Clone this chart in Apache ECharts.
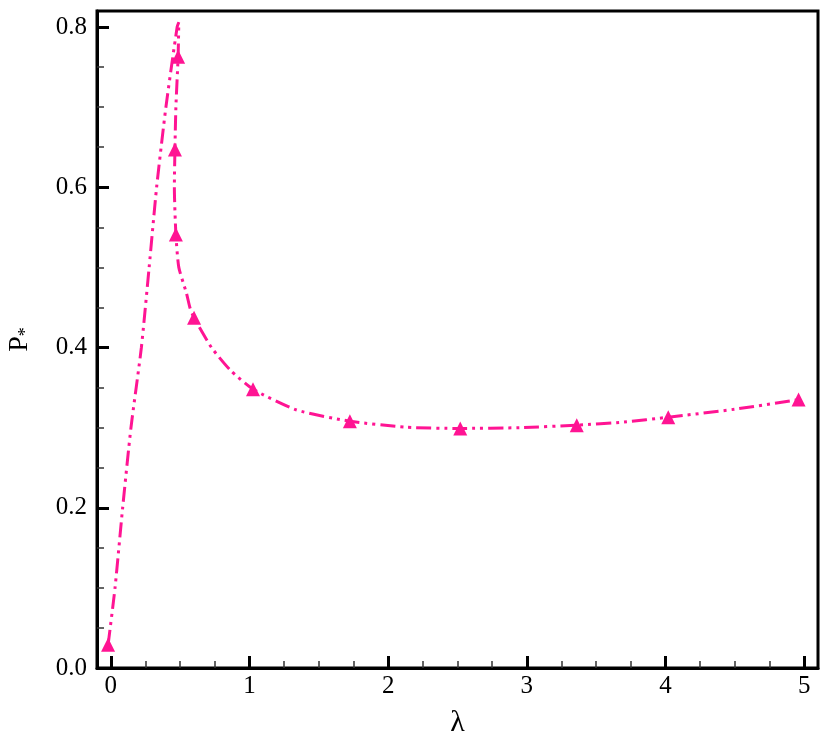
<!DOCTYPE html>
<html>
<head>
<meta charset="utf-8">
<script src="https://cdn.jsdelivr.net/npm/echarts@6/dist/echarts.min.js"></script>
<style>html,body{margin:0;padding:0;background:#fff}#c{width:828px;height:742px}</style>
</head>
<body>
<div id="c"></div>
<script>
// curve (lambda, P*)
const curveX = [-0.02, 0.03, 0.085, 0.145, 0.22, 0.276, 0.33, 0.397, 0.478, 0.49, 0.485, 0.469, 0.462, 0.458, 0.469, 0.49, 0.545, 0.57, 0.6, 0.726, 0.86, 1.025, 1.34, 1.724, 2.13, 2.52, 2.95, 3.36, 3.7, 4.02, 4.5, 4.96];
const curveY = [0.029, 0.1, 0.2, 0.3, 0.4, 0.5, 0.6, 0.7, 0.8, 0.806, 0.763, 0.7, 0.647, 0.6, 0.541, 0.5, 0.468, 0.45, 0.437, 0.4, 0.372, 0.348, 0.322, 0.308, 0.3005, 0.299, 0.3, 0.303, 0.307, 0.313, 0.323, 0.335];
// triangle markers
const markX = [-0.02, 0.462, 0.485, 0.469, 0.6, 1.025, 1.724, 2.52, 3.36, 4.02, 4.96];
const markY = [0.029, 0.647, 0.763, 0.541, 0.437, 0.348, 0.308, 0.299, 0.303, 0.313, 0.335];
// ticks
const xMajor = [0, 1, 2, 3, 4, 5];
const xMinor = [0.25, 0.5, 0.75, 1.25, 1.5, 1.75, 2.25, 2.5, 2.75, 3.25, 3.5, 3.75, 4.25, 4.5, 4.75];
const yMajor = [0, 0.2, 0.4, 0.6, 0.8];
const yMinor = [0.05, 0.1, 0.15, 0.25, 0.3, 0.35, 0.45, 0.5, 0.55, 0.65, 0.7, 0.75];

const curve = curveX.map((x, i) => [x, curveY[i]]);
const marks = markX.map((x, i) => [x, markY[i]]);
const color = '#ff1493';
const font = "'Liberation Serif', 'Times New Roman', serif";

const chart = echarts.init(document.getElementById('c'));
chart.setOption({
  animation: false,
  grid: { left: 97, right: 10, top: 11, bottom: 74, show: true, borderColor: '#000', borderWidth: 3, containLabel: false, outerBoundsMode: 'none' },
  xAxis: [{
    type: 'value', min: -0.1, max: 5.1, position: 'bottom',
    name: 'λ', nameLocation: 'middle', nameGap: 40,
    nameTextStyle: { fontFamily: font, fontSize: 30, color: '#000' },
    axisLine: { show: true, onZero: false, lineStyle: { color: '#000', width: 3 } },
    axisTick: { show: true, inside: true, length: 12, lineStyle: { color: '#000', width: 3 }, customValues: xMajor },
    axisLabel: { customValues: xMajor, fontFamily: font, fontSize: 25, color: '#000', margin: 6 },
    splitLine: { show: false }
  }, {
    type: 'value', min: -0.1, max: 5.1, position: 'bottom',
    axisLine: { show: false, onZero: false },
    axisTick: { show: true, inside: true, length: 7, lineStyle: { color: '#333', width: 1.5 }, customValues: xMinor },
    axisLabel: { show: false },
    splitLine: { show: false }
  }],
  yAxis: [{
    type: 'value', min: 0, max: 0.82, position: 'left',
    name: '{p|P}{s|*}', nameLocation: 'middle', nameGap: 62, nameRotate: 90,
    nameTextStyle: { fontFamily: font, color: '#000', rich: { p: { fontFamily: font, fontSize: 28, color: '#000' }, s: { fontFamily: font, fontSize: 18, color: '#000', padding: [12, 0, 0, 0] } } },
    axisLine: { show: true, onZero: false, lineStyle: { color: '#000', width: 3 } },
    axisTick: { show: true, inside: true, length: 12, lineStyle: { color: '#000', width: 3 }, customValues: yMajor },
    axisLabel: { customValues: yMajor, fontFamily: font, fontSize: 25, color: '#000', margin: 10, formatter: v => v.toFixed(1) },
    splitLine: { show: false }
  }, {
    type: 'value', min: 0, max: 0.82, position: 'left',
    axisLine: { show: false, onZero: false },
    axisTick: { show: true, inside: true, length: 7, lineStyle: { color: '#333', width: 1.5 }, customValues: yMinor },
    axisLabel: { show: false },
    splitLine: { show: false }
  }],
  series: [{
    type: 'line', data: curve, xAxisIndex: 0, yAxisIndex: 0,
    smooth: 0.2, showSymbol: false, symbol: 'none',
    lineStyle: { color: color, width: 3, type: [15, 5, 3, 5, 3, 5] }
  }, {
    type: 'scatter', data: marks, xAxisIndex: 0, yAxisIndex: 0,
    symbol: 'triangle', symbolSize: 14,
    itemStyle: { color: color, opacity: 1 }
  }]
});
</script>
</body>
</html>
